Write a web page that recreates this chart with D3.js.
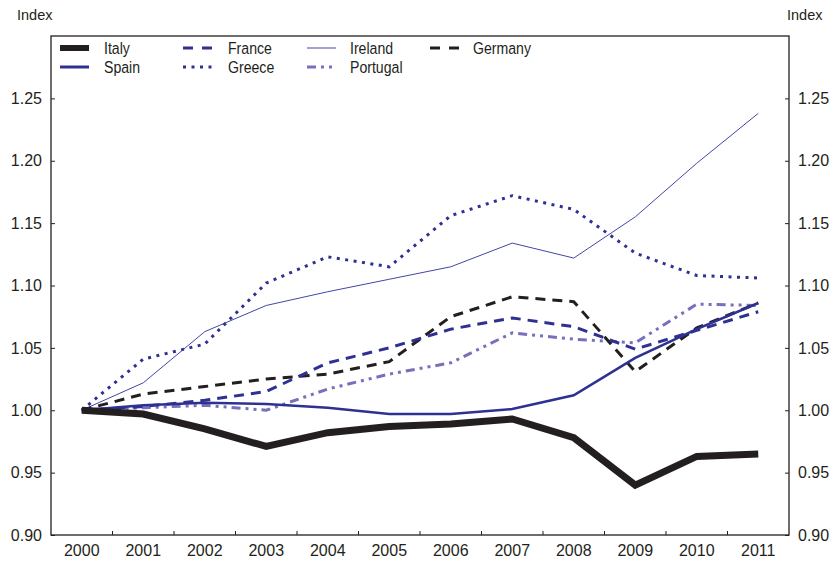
<!DOCTYPE html>
<html>
<head>
<meta charset="utf-8">
<script src="https://cdn.jsdelivr.net/npm/d3@7"></script>
<style>
  html, body { margin: 0; padding: 0; background: #fff; }
  svg { display: block; }
  .tick text { font-family: "Liberation Sans", Arial, sans-serif; font-size: 16px; fill: #231f20; }
  .legend text { font-family: "Liberation Sans", Arial, sans-serif; font-size: 17px; fill: #231f20; }
  .unit { font-family: "Liberation Sans", Arial, sans-serif; font-size: 14.5px; fill: #231f20; }
</style>
</head>
<body>
<svg id="chart" width="831" height="562"></svg>
<script>
const years = ["2000","2001","2002","2003","2004","2005","2006","2007","2008","2009","2010","2011"];
const yTicks = [0.90, 0.95, 1.00, 1.05, 1.10, 1.15, 1.20, 1.25];

const italy    = [1.000, 0.997, 0.985, 0.971, 0.982, 0.987, 0.989, 0.993, 0.978, 0.940, 0.963, 0.965];
const spain    = [1.000, 1.004, 1.006, 1.005, 1.002, 0.997, 0.997, 1.001, 1.012, 1.042, 1.065, 1.086];
const france   = [1.000, 1.003, 1.008, 1.015, 1.038, 1.050, 1.065, 1.074, 1.067, 1.049, 1.064, 1.079];
const greece   = [1.000, 1.041, 1.053, 1.102, 1.123, 1.115, 1.156, 1.172, 1.161, 1.126, 1.108, 1.106];
const ireland  = [1.000, 1.022, 1.063, 1.084, 1.095, 1.105, 1.115, 1.134, 1.122, 1.155, 1.198, 1.238];
const portugal = [1.000, 1.002, 1.004, 1.000, 1.017, 1.029, 1.038, 1.062, 1.057, 1.054, 1.085, 1.084];
const germany  = [1.000, 1.013, 1.019, 1.025, 1.029, 1.039, 1.075, 1.091, 1.087, 1.031, 1.066, 1.086];

const seriesNames = ["Italy", "Spain", "France", "Greece", "Ireland", "Portugal", "Germany"];
const seriesData = [italy, spain, france, greece, ireland, portugal, germany];

const styles = {
  Italy:    { color: "#231f20", width: 7,   dash: null },
  Spain:    { color: "#2e3192", width: 2.6, dash: null },
  France:   { color: "#2e3192", width: 3,   dash: "10,7" },
  Greece:   { color: "#2e3192", width: 3,   dash: "3,5.5" },
  Ireland:  { color: "#4346a8", width: 1,   dash: null },
  Portugal: { color: "#7670bd", width: 3,   dash: "9,5,3,5,3,5" },
  Germany:  { color: "#231f20", width: 3,   dash: "10,7" }
};

const svg = d3.select("#chart");
const mLeft = 51, mRight = 789, mTop = 36, mBottom = 535;

const x = d3.scaleBand().domain(years).range([mLeft, mRight]).padding(0);
const y = d3.scaleLinear().domain([0.9, 1.3]).range([mBottom, mTop]);

// frame
svg.append("rect")
  .attr("x", mLeft).attr("y", mTop)
  .attr("width", mRight - mLeft).attr("height", mBottom - mTop)
  .attr("fill", "none").attr("stroke", "#231f20").attr("stroke-width", 1.3);

// left axis
const fmt = d3.format(".2f");
svg.append("g").attr("transform", `translate(${mLeft},0)`)
  .call(d3.axisLeft(y).tickValues(yTicks).tickFormat(fmt).tickSize(-4).tickPadding(9))
  .call(g => g.select(".domain").remove())
  .call(g => g.selectAll(".tick line").attr("stroke", "#231f20"));

// right axis
svg.append("g").attr("transform", `translate(${mRight},0)`)
  .call(d3.axisRight(y).tickValues(yTicks).tickFormat(fmt).tickSize(-4).tickPadding(9))
  .call(g => g.select(".domain").remove())
  .call(g => g.selectAll(".tick line").attr("stroke", "#231f20"));

// bottom axis labels
svg.append("g").attr("transform", `translate(0,${mBottom})`)
  .call(d3.axisBottom(x).tickSize(0).tickPadding(10))
  .call(g => g.select(".domain").remove());

// bottom inward ticks at band boundaries
svg.append("g").selectAll("line")
  .data(years.slice(1))
  .join("line")
  .attr("x1", d => x(d)).attr("x2", d => x(d))
  .attr("y1", mBottom).attr("y2", mBottom - 4)
  .attr("stroke", "#231f20").attr("stroke-width", 1);

// unit labels
svg.append("text").attr("class", "unit").attr("x", 17).attr("y", 20).text("Index");
svg.append("text").attr("class", "unit").attr("x", 787).attr("y", 20).text("Index");

// lines
const line = d3.line()
  .x((d, i) => x(years[i]) + x.bandwidth() / 2)
  .y(d => y(d));

const drawOrder = ["Ireland", "Greece", "Portugal", "Germany", "France", "Spain", "Italy"];
drawOrder.forEach(name => {
  const s = styles[name];
  const data = seriesData[seriesNames.indexOf(name)];
  svg.append("path")
    .datum(data)
    .attr("d", line)
    .attr("fill", "none")
    .attr("stroke", s.color)
    .attr("stroke-width", s.width)
    .attr("stroke-dasharray", s.dash)
    .attr("stroke-linejoin", "miter");
});

// legend
const legendItems = [
  { name: "Italy",    col: 0, row: 0 },
  { name: "Spain",    col: 0, row: 1 },
  { name: "France",   col: 1, row: 0 },
  { name: "Greece",   col: 1, row: 1 },
  { name: "Ireland",  col: 2, row: 0 },
  { name: "Portugal", col: 2, row: 1 },
  { name: "Germany",  col: 3, row: 0 }
];
const colX = [60, 183, 307, 430];
const textX = [104, 228, 350, 473];
const rowY = [48, 67];

const lg = svg.append("g").attr("class", "legend");
legendItems.forEach(it => {
  const s = styles[it.name];
  lg.append("line")
    .attr("x1", colX[it.col]).attr("x2", colX[it.col] + 29)
    .attr("y1", rowY[it.row]).attr("y2", rowY[it.row])
    .attr("stroke", s.color)
    .attr("stroke-width", it.name === "Italy" ? 6 : (it.name === "Ireland" ? 1 : 3))
    .attr("stroke-dasharray", it.name === "France" || it.name === "Germany" ? "10,9" :
                              it.name === "Greece" ? "3,5.5" :
                              it.name === "Portugal" ? "9,5,3,5,3,5" : null);
  lg.append("text")
    .attr("transform", `translate(${textX[it.col]},${rowY[it.row] + 6}) scale(0.83,1)`)
    .text(it.name);
});
</script>
</body>
</html>
